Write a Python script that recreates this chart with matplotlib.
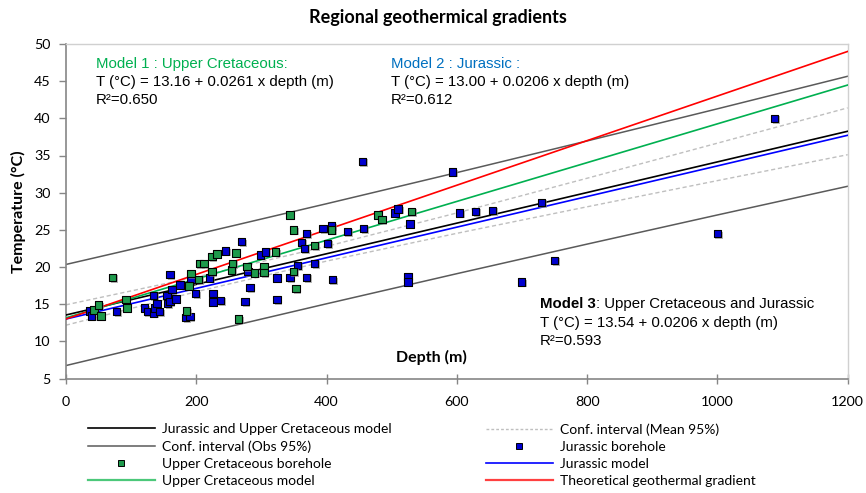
import matplotlib
matplotlib.use("Agg")
import matplotlib.pyplot as plt
import matplotlib.patheffects as pe
from matplotlib.lines import Line2D
import numpy as np

# ---------------- data ----------------
uc_depth = [43, 50, 54, 72, 92, 94, 185, 189, 192, 204, 205, 212, 224, 224, 232,
            254, 256, 261, 264.5, 278, 289, 304, 304, 322, 344, 349, 349, 353,
            382, 408, 479, 485, 530]
uc_temp = [14.2, 14.9, 13.4, 18.6, 15.6, 14.5, 14.1, 17.45, 19.1, 18.3, 20.5, 20.5,
           19.4, 21.4, 21.75, 19.6, 20.5, 21.9, 13.0, 20.1, 19.2, 20.1, 19.3, 22.0,
           27.0, 25.0, 19.4, 17.1, 22.9, 25.0, 27.0, 26.4, 27.5]

jur_depth = [37, 39.5, 78, 121, 125, 134, 134, 137, 140, 144, 155, 156, 160, 160,
             163, 169, 175, 184, 190.5, 192, 199, 220, 226, 226, 237.5, 245, 270,
             275, 279.5, 282.5, 299, 306, 324, 324, 344, 355, 362, 366, 369.5,
             369.5, 382, 394.5, 402, 408, 409, 432, 455, 457, 505, 510, 525, 525,
             528, 593, 604, 629, 655, 699, 730, 750, 1000, 1088]
jur_temp = [14.1, 13.4, 14.0, 14.5, 14.0, 16.2, 13.8, 14.5, 15.1, 14.0, 16.2, 15.1,
            15.4, 19.0, 17.0, 15.7, 17.6, 13.2, 13.3, 18.3, 16.4, 18.5, 16.4, 15.3,
            15.5, 22.15, 23.4, 15.4, 19.4, 17.2, 21.6, 22.0, 18.5, 15.6, 18.6, 20.2,
            23.3, 22.5, 24.5, 18.6, 20.5, 25.2, 23.2, 25.5, 18.3, 24.8, 34.2, 25.2,
            27.25, 27.8, 18.7, 18.0, 25.8, 32.8, 27.25, 27.5, 27.6, 18.0, 28.7, 20.9,
            24.5, 40.0]

# model intercepts / slopes (T = a + b * depth)
model_names = ["combined", "uc", "jur", "theory"]
model_a = [13.54, 13.16, 13.00, 13.0]
model_b = [0.0206, 0.0261, 0.0206, 0.030]

# confidence intervals at given depths
ci_depth = [0, 200, 400, 600, 800, 1000, 1200]
mean_up = [14.91, 18.65, 22.77, 27.27, 31.94, 36.66, 41.41]
mean_lo = [12.17, 16.67, 20.79, 24.53, 28.10, 31.62, 35.11]
obs_up = [20.34, 24.39, 28.51, 32.70, 36.96, 41.28, 45.66]
obs_lo = [6.74, 10.93, 15.05, 19.10, 23.08, 27.00, 30.86]

x_ticks = [0, 200, 400, 600, 800, 1000, 1200]
y_ticks = [5, 10, 15, 20, 25, 30, 35, 40, 45, 50]

# ---------------- styles ----------------
C_UC_MARK = "#1E9A4C"
C_JUR_MARK = "#0000D0"
C_UC_LINE = "#00B050"
C_JUR_LINE = "#0000FF"
C_THEO = "#FF0000"
C_COMB = "#000000"
C_OBS = "#5A5A5A"
C_MEAN = "#BFBFBF"
UI_FONT = ["Lato", "DejaVu Sans"]
ANN_FONT = ["Liberation Sans", "DejaVu Sans"]

W, H = 866, 493
fig = plt.figure(figsize=(W / 100, H / 100), dpi=100)
ax = fig.add_axes([65.9 / W, 1 - 378.5 / H, (847.7 - 65.9) / W, (378.5 - 44) / H])

depth_line = np.array([0, 1200])
lw = 1.2

ax.plot(ci_depth, obs_up, color=C_OBS, lw=1.1, zorder=2)
ax.plot(ci_depth, obs_lo, color=C_OBS, lw=1.1, zorder=2)
ax.plot(ci_depth, mean_up, color=C_MEAN, lw=1.0, dashes=(3, 2), zorder=2)
ax.plot(ci_depth, mean_lo, color=C_MEAN, lw=1.0, dashes=(3, 2), zorder=2)

colors = {"combined": C_COMB, "uc": C_UC_LINE, "jur": C_JUR_LINE, "theory": C_THEO}
for name, a, b in zip(model_names, model_a, model_b):
    ax.plot(depth_line, a + b * depth_line, color=colors[name], lw=lw, zorder=3)

shadow = [pe.SimplePatchShadow(offset=(1.2, -1.2), shadow_rgbFace="#888888", alpha=0.6),
          pe.Normal()]
ax.scatter(jur_depth, jur_temp, marker="s", s=28, facecolor=C_JUR_MARK,
           edgecolor="black", linewidth=0.8, zorder=4, path_effects=shadow)
ax.scatter(uc_depth, uc_temp, marker="s", s=28, facecolor=C_UC_MARK,
           edgecolor="black", linewidth=0.8, zorder=5, path_effects=shadow)

ax.set_xlim(0, 1200)
ax.set_ylim(5, 50)
ax.set_xticks(x_ticks)
ax.set_yticks(y_ticks)
ax.set_xticklabels([str(v) for v in x_ticks], fontfamily=UI_FONT, fontsize=10.3)
ax.set_yticklabels([str(v) for v in y_ticks], fontfamily=UI_FONT, fontsize=10.3)
ax.tick_params(axis="x", direction="inout", length=7, width=1, color="#868686", pad=9)
ax.tick_params(axis="y", direction="out", length=5, width=1, color="#868686", pad=6)
for s in ["left", "bottom"]:
    ax.spines[s].set_color("#868686")
    ax.spines[s].set_linewidth(1.2)
for s in ["top", "right"]:
    ax.spines[s].set_color("#D0D0D0")
    ax.spines[s].set_linewidth(1.0)

ax.set_ylabel("Temperature (°C)", fontfamily=UI_FONT, fontsize=11.5, fontweight="bold")
ax.yaxis.set_label_coords(-0.051, 0.5)
ax.text(0.468, 0.064, "Depth (m)", transform=ax.transAxes, ha="center", va="center",
        fontfamily=UI_FONT, fontsize=11.5, fontweight="bold")

fig.text(438 / W, 1 - 17 / H, "Regional geothermical gradients", ha="center", va="center",
         fontfamily=UI_FONT, fontsize=13, fontweight="bold")

# annotations
fs_ann = 10.8
def px_to_ax(px, py):
    return ((px - 65.9) / (847.7 - 65.9), (378.5 - py) / (378.5 - 44))

x1, _ = px_to_ax(96, 0)
x2, _ = px_to_ax(391, 0)
rows = [px_to_ax(0, y)[1] for y in (64, 82, 100)]
ax.text(x1, rows[0], "Model 1 : Upper Cretaceous:", transform=ax.transAxes, color="#00B050",
        fontsize=fs_ann, fontfamily=ANN_FONT, va="center")
ax.text(x1, rows[1], "T (°C) = 13.16 + 0.0261 x depth (m)", transform=ax.transAxes,
        fontsize=fs_ann, fontfamily=ANN_FONT, va="center")
ax.text(x1, rows[2], "R²=0.650", transform=ax.transAxes, fontsize=fs_ann,
        fontfamily=ANN_FONT, va="center")
ax.text(x2, rows[0], "Model 2 : Jurassic :", transform=ax.transAxes, color="#0070C0",
        fontsize=fs_ann, fontfamily=ANN_FONT, va="center")
ax.text(x2, rows[1], "T (°C) = 13.00 + 0.0206 x depth (m)", transform=ax.transAxes,
        fontsize=fs_ann, fontfamily=ANN_FONT, va="center")
ax.text(x2, rows[2], "R²=0.612", transform=ax.transAxes, fontsize=fs_ann,
        fontfamily=ANN_FONT, va="center")

x3, _ = px_to_ax(540, 0)
rows3 = [px_to_ax(0, y)[1] for y in (304, 322.5, 341)]
t3 = ax.text(x3, rows3[0], "Model 3", transform=ax.transAxes, fontsize=fs_ann,
             fontfamily=ANN_FONT, fontweight="bold", va="center")
ax.annotate(": Upper Cretaceous and Jurassic", xy=(1, 0.5), xycoords=t3, va="center",
            fontsize=fs_ann, fontfamily=ANN_FONT)
ax.text(x3, rows3[1], "T (°C) = 13.54 + 0.0206 x depth (m)", transform=ax.transAxes,
        fontsize=fs_ann, fontfamily=ANN_FONT, va="center")
ax.text(x3, rows3[2], "R²=0.593", transform=ax.transAxes, fontsize=fs_ann,
        fontfamily=ANN_FONT, va="center")

# legends
h_comb = Line2D([], [], color=C_COMB, lw=lw)
h_obs = Line2D([], [], color=C_OBS, lw=1.1)
h_ucm = Line2D([], [], color=C_UC_MARK, marker="s", ls="none", markersize=4,
               markeredgecolor="black", markeredgewidth=0.7)
h_ucl = Line2D([], [], color="#4CC87A", lw=1.6)
h_mean = Line2D([], [], color=C_MEAN, lw=1.0, dashes=(2, 1.5))
h_jm = Line2D([], [], color=C_JUR_MARK, marker="s", ls="none", markersize=4,
              markeredgecolor="black", markeredgewidth=0.7)
h_jl = Line2D([], [], color=C_JUR_LINE, lw=1.2)
h_th = Line2D([], [], color="#FF4040", lw=1.6)

leg_kw = dict(loc="upper left", frameon=False, borderpad=0, borderaxespad=0,
              handlelength=4.8, handletextpad=0.5, labelspacing=0.37, numpoints=1,
              prop={"family": UI_FONT, "size": 10})
leg1 = fig.legend([h_comb, h_obs, h_ucm, h_ucl],
                  ["Jurassic and Upper Cretaceous model", "Conf. interval (Obs 95%)",
                   "Upper Cretaceous borehole", "Upper Cretaceous model"],
                  bbox_to_anchor=(88 / W, 1 - 423 / H), **leg_kw)
leg2 = fig.legend([h_mean, h_jm, h_jl, h_th],
                  ["Conf. interval (Mean 95%)", "Jurassic borehole", "Jurassic model",
                   "Theoretical geothermal gradient"],
                  bbox_to_anchor=(486 / W, 1 - 423 / H), **leg_kw)

fig.savefig("out.png", dpi=100)
